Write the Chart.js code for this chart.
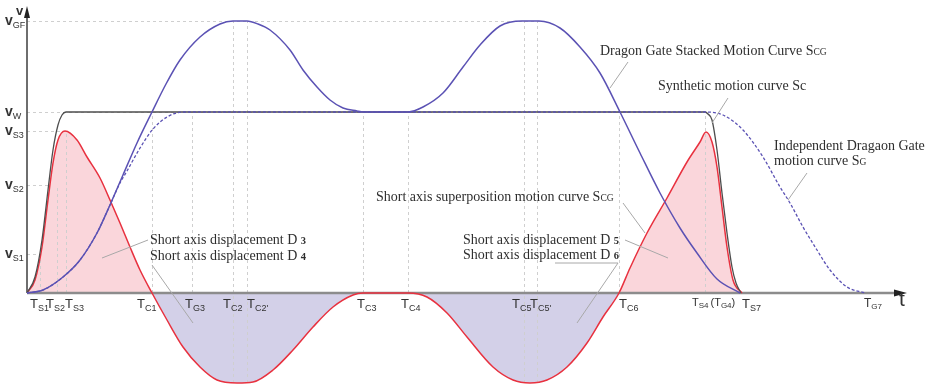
<!DOCTYPE html>
<html>
<head>
<meta charset="utf-8">
<script src="https://cdn.jsdelivr.net/npm/chart.js@4.4.0/dist/chart.umd.min.js"></script>
<style>
html,body{margin:0;padding:0;background:#fff;}
#wrap{width:929px;height:385px;}
</style>
</head>
<body>
<div id="wrap"><canvas id="myChart" width="929" height="385"></canvas></div>
<script>
"use strict";

// time ticks (x) and velocity ticks (y)
const tTicks   = [13, 30, 39, 125, 165, 206, 220, 336, 381, 497, 510, 592, 678, 715, 838];
const tSubs    = ['S1', 'S2', 'S3', 'C1', 'G3', 'C2', "C2'", 'C3', 'C4', 'C5', "C5'", 'C6', 'S4', 'S7', 'G7'];
const tGuideLo = [0, 0, 0, 0, 0, -90, -90, 0, 0, -90, -90, 0, 0, null, null];
const tGuideHi = [43, 108, 162, 181, 181, 272, 272, 181, 181, 272, 272, 181, 181, null, null];

const vTicks    = [272, 181, 162, 108, 39];
const vSubs     = ['GF', 'W', 'S3', 'S2', 'S1'];
const vGuideEnd = [513, 678, 39, 24, 13];

// synthetic motion curve Sc
const scX = [0, 8, 15, 21, 26, 31, 35, 39, 678, 681, 685, 690, 695, 700, 705, 709, 714];
const scY = [0, 16, 53, 103, 143, 168, 178, 181, 181, 179, 173, 143, 100, 60, 26, 10, 0];

// dragon gate stacked motion curve Scg
const scgX = [0, 16, 36, 53, 70, 83, 96, 110, 125, 139, 153, 173, 193, 206, 220, 231, 243, 263, 276, 290, 303, 316, 330, 336,
              381, 396, 416, 436, 453, 473, 495, 512, 533, 553, 573, 593, 613, 633, 653, 670, 690, 713];
const scgY = [0, 3, 16, 33, 60, 88, 118, 150, 181, 209, 233, 256, 269, 272, 272, 269, 263, 243, 223, 206, 193, 185, 182, 181,
              181, 186, 200, 226, 248, 267, 272, 272, 265, 246, 220, 181, 140, 100, 65, 40, 14, 0];

// independent dragon gate motion curve Sg
const sgX = [0, 16, 36, 53, 70, 83, 93, 100, 113, 126, 140, 156, 678, 696, 716, 736, 753, 763, 776, 790, 803, 820, 838];
const sgY = [0, 3, 16, 33, 60, 88, 110, 122, 145, 164, 176, 181, 181, 178, 163, 136, 106, 90, 66, 43, 23, 6, 0];

// short axis superposition motion curve
const shX = [0, 8, 15, 21, 26, 31, 38, 50, 60, 73, 83, 93, 103, 113, 125, 140, 156, 173, 190, 210, 226, 246, 266, 286, 306, 326, 336,
             381, 400, 420, 440, 466, 486, 503, 520, 540, 560, 576, 592, 603, 620, 640, 660, 673, 679, 685, 690, 695, 700, 706, 715];
const shY = [0, 13, 46, 93, 130, 153, 162, 153, 136, 115, 93, 70, 46, 23, 0, -27, -54, -74, -87, -90, -89, -77, -57, -34, -14, -2, 0,
             0, -4, -20, -44, -74, -87, -90, -87, -74, -50, -24, 0, 25, 60, 95, 131, 151, 161, 151, 126, 86, 46, 13, 0];

const pts = (xs, ys) => xs.map((x, i) => ({x: x, y: ys[i]}));

const SERIF = '"Liberation Serif", "Times New Roman", serif';
const SANS = '"Liberation Sans", Arial, sans-serif';

function rich(ctx, x, y, parts) {
	parts.forEach(p => {
		ctx.font = p.f;
		ctx.fillText(p.t, x, y + (p.dy || 0));
		x += ctx.measureText(p.t).width;
	});
	return x;
}

function line(ctx, xs, ys) {
	ctx.beginPath();
	ctx.moveTo(xs[0], ys[0]);
	for (let i = 1; i < xs.length; i++) ctx.lineTo(xs[i], ys[i]);
	ctx.stroke();
}

const overlay = {
	id: 'overlay',
	beforeDatasetsDraw(chart) {
		const ctx = chart.ctx, sx = chart.scales.x, sy = chart.scales.y;
		const x0 = sx.getPixelForValue(0), y0 = sy.getPixelForValue(0);
		ctx.save();
		ctx.strokeStyle = '#cfcfcf';
		ctx.lineWidth = 1;
		ctx.setLineDash([3, 3]);
		tTicks.forEach((t, i) => {
			if (tGuideHi[i] === null) return;
			const px = Math.round(sx.getPixelForValue(t)) + 0.5;
			line(ctx, [px, px], [sy.getPixelForValue(tGuideLo[i]), sy.getPixelForValue(tGuideHi[i])]);
		});
		vTicks.forEach((v, i) => {
			const py = Math.round(sy.getPixelForValue(v)) + 0.5;
			line(ctx, [x0, sx.getPixelForValue(vGuideEnd[i])], [py, py]);
		});
		ctx.setLineDash([]);
		// axes
		ctx.strokeStyle = '#8c8c8c';
		ctx.lineWidth = 2.5;
		line(ctx, [x0, sx.right - 8], [y0, y0]);
		ctx.strokeStyle = '#4a4a4a';
		ctx.lineWidth = 1.6;
		line(ctx, [x0, x0], [y0, sy.top + 8]);
		ctx.restore();
	},
	afterDatasetsDraw(chart) {
		const ctx = chart.ctx, sx = chart.scales.x, sy = chart.scales.y;
		const x0 = sx.getPixelForValue(0), y0 = sy.getPixelForValue(0);
		ctx.save();
		// arrow heads
		ctx.fillStyle = '#222';
		ctx.beginPath();
		ctx.moveTo(x0, sy.top + 1); ctx.lineTo(x0 - 3, sy.top + 13); ctx.lineTo(x0 + 3, sy.top + 13); ctx.closePath();
		ctx.fill();
		ctx.beginPath();
		ctx.moveTo(sx.right, y0); ctx.lineTo(sx.right - 13, y0 - 3.5); ctx.lineTo(sx.right - 13, y0 + 3.5); ctx.closePath();
		ctx.fill();

		ctx.fillStyle = '#333';
		ctx.textBaseline = 'alphabetic';
		ctx.textAlign = 'left';
		rich(ctx, 16, 15, [{t: 'v', f: 'bold 13px ' + SANS}]);
		rich(ctx, sx.right - 8, y0 + 13, [{t: 't', f: '21px ' + SANS}]);

		// velocity labels
		vTicks.forEach((v, i) => {
			const py = sy.getPixelForValue(v) + 4;
			rich(ctx, 5, py, [{t: 'v', f: 'bold 14px ' + SANS}, {t: vSubs[i], f: '9px ' + SANS, dy: 3}]);
		});

		// time labels
		const nudge = [-10, -11, -1, -15, -7, -10, 0, -6, -7, -12, -7, 0, -13, 0, -1];
		tTicks.forEach((t, i) => {
			const px = sx.getPixelForValue(t) + nudge[i];
			const py = y0 + 15;
			if (tSubs[i] === 'S4') {
				let x = rich(ctx, px, py - 2, [{t: 'T', f: '11px ' + SANS}, {t: 'S4', f: '8px ' + SANS, dy: 2}]);
				rich(ctx, x + 2, py - 2, [{t: '(T', f: '11px ' + SANS}, {t: 'G4', f: '8px ' + SANS, dy: 2}, {t: ')', f: '11px ' + SANS}]);
			} else if (tSubs[i] === 'G7') {
				rich(ctx, px, py - 1, [{t: 'T', f: '12px ' + SANS}, {t: 'G7', f: '8px ' + SANS, dy: 2}]);
			} else {
				rich(ctx, px, py, [{t: 'T', f: '13px ' + SANS}, {t: tSubs[i], f: '9px ' + SANS, dy: 3}]);
			}
		});

		// annotations with leader lines
		const big = '14px ' + SERIF, sm = '9.5px ' + SERIF, num = 'bold 10.5px ' + SERIF;
		const notes = [
			{x: 573, y: 238, parts: [{t: 'Dragon Gate Stacked Motion Curve S', f: big}, {t: 'CG', f: sm}], lx: [601, 583], ly: [231, 205]},
			{x: 631, y: 203, parts: [{t: 'Synthetic motion curve Sc', f: big}], lx: [701, 685], ly: [195, 170]},
			{x: 747, y: 143, parts: [{t: 'Independent Dragaon Gate', f: big}]},
			{x: 747, y: 128, parts: [{t: 'motion curve S', f: big}, {t: 'G', f: sm}], lx: [780, 761], ly: [120, 93]},
			{x: 349, y: 92, parts: [{t: 'Short axis superposition motion curve S', f: big}, {t: 'CG', f: sm}], lx: [596, 618], ly: [90, 60]},
			{x: 436, y: 49, parts: [{t: 'Short axis displacement D ', f: big}, {t: '5', f: num}], lx: [598, 641], ly: [53, 35]},
			{x: 436, y: 34, parts: [{t: 'Short axis displacement D ', f: big}, {t: '6', f: num}], lx: [528, 591, 550], ly: [30, 30, -30]},
			{x: 123, y: 49, parts: [{t: 'Short axis displacement D ', f: big}, {t: '3', f: num}], lx: [121, 75], ly: [53, 35]},
			{x: 123, y: 33, parts: [{t: 'Short axis displacement D ', f: big}, {t: '4', f: num}], lx: [125, 166], ly: [28, -30]}
		];
		ctx.strokeStyle = '#a8a8a8';
		ctx.lineWidth = 1;
		notes.forEach(n => {
			if (n.lx) line(ctx, n.lx.map(v => sx.getPixelForValue(v)), n.ly.map(v => sy.getPixelForValue(v)));
		});
		ctx.fillStyle = '#2e2e2e';
		notes.forEach(n => {
			rich(ctx, sx.getPixelForValue(n.x), sy.getPixelForValue(n.y), n.parts);
		});
		ctx.restore();
	}
};

const blue = '#5b52b4';

const data = {
	datasets: [
		{
			label: 'Dragon Gate Stacked Motion Curve Scg',
			data: pts(scgX, scgY),
			borderColor: blue,
			borderWidth: 1.5,
			fill: false
		},
		{
			label: 'Independent Dragaon Gate motion curve Sg',
			data: pts(sgX, sgY),
			borderColor: blue,
			borderWidth: 1.3,
			borderDash: [3, 2],
			fill: false
		},
		{
			label: 'Synthetic motion curve Sc',
			data: pts(scX, scY),
			borderColor: '#4d4d4d',
			borderWidth: 1.3,
			fill: false
		},
		{
			label: 'Short axis superposition motion curve Scg',
			data: pts(shX, shY),
			borderColor: '#e8313f',
			borderWidth: 1.5,
			fill: {target: 'origin', above: 'rgba(238,120,135,0.3)', below: 'rgba(110,100,180,0.3)'}
		}
	]
};

const config = {
	type: 'line',
	data: data,
	options: {
		responsive: false,
		animation: false,
		layout: {padding: {left: 27, right: 22, top: 5, bottom: 0}},
		elements: {
			point: {radius: 0},
			line: {cubicInterpolationMode: 'monotone'}
		},
		plugins: {
			legend: {display: false},
			tooltip: {enabled: false},
			filler: {drawTime: 'beforeDatasetsDraw'}
		},
		scales: {
			x: {type: 'linear', min: 0, max: 880, display: false},
			y: {type: 'linear', min: -92, max: 288, display: false}
		}
	},
	plugins: [overlay]
};

const myChart = new Chart(document.getElementById('myChart'), config);
</script>
</body>
</html>
